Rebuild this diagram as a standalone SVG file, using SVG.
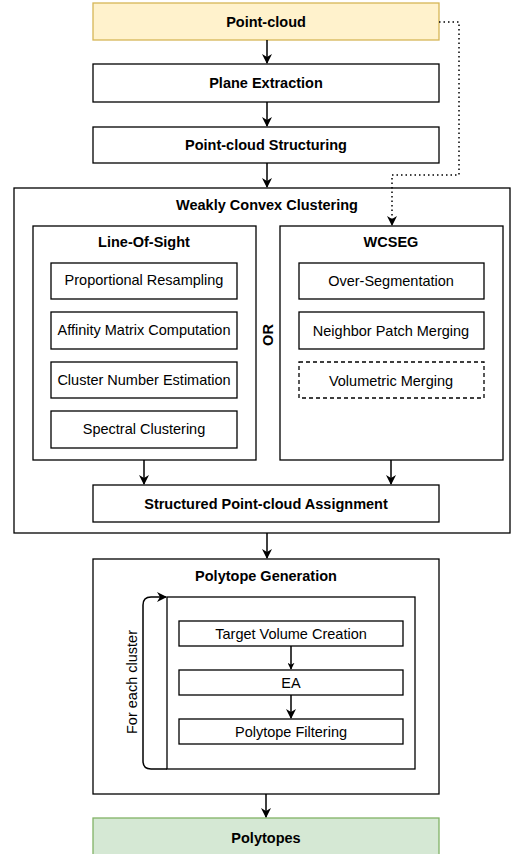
<svg xmlns="http://www.w3.org/2000/svg" width="513" height="854" viewBox="0 0 513 854">
<defs>
<marker id="ah" viewBox="0 0 10 10" refX="9" refY="5" markerWidth="7" markerHeight="7" markerUnits="userSpaceOnUse" orient="auto">
<path d="M0,0 L10,5 L0,10 L3,5 Z" fill="#000"/>
</marker>
<marker id="ah2" viewBox="0 0 10 10" refX="9" refY="5" markerWidth="10" markerHeight="10" markerUnits="userSpaceOnUse" orient="auto">
<path d="M0,0 L10,5 L0,10 L3,5 Z" fill="#000"/>
</marker>
<style>
rect{fill:#fff;stroke:#000;stroke-width:1.3}
text{font-family:"Liberation Sans",Arial,sans-serif;font-size:14.5px;text-anchor:middle;fill:#000}
.b{font-weight:bold}
.c{fill:none;stroke:#000;stroke-width:1.5}
</style>
</defs>
<rect width="513" height="854" style="fill:#fff;stroke:none"/>
<g id="wcc"><rect x="14" y="188" width="496" height="345"/><text class="b" x="267" y="210">Weakly Convex Clustering</text></g>
<g id="los"><rect x="33" y="226" width="223" height="234"/><text class="b" x="144" y="247">Line-Of-Sight</text></g>
<g id="wcseg"><rect x="280" y="226" width="223" height="234"/><text class="b" x="391" y="247">WCSEG</text></g>
<g id="pg"><rect x="93" y="559" width="346" height="235"/><text class="b" x="266" y="581">Polytope Generation</text></g>
<g id="loop"><rect x="167" y="597" width="248" height="172"/></g>
<g id="pc"><rect x="93" y="3" width="346" height="37" style="fill:#fff2cc;stroke:#d6b656"/><text class="b" x="266" y="27">Point-cloud</text></g>
<g id="pe"><rect x="93" y="64" width="346" height="38"/><text class="b" x="266" y="88">Plane Extraction</text></g>
<g id="pcs"><rect x="93" y="127" width="346" height="36"/><text class="b" x="266" y="150">Point-cloud Structuring</text></g>
<g id="pr"><rect x="51" y="263" width="186" height="36"/><text x="144" y="285">Proportional Resampling</text></g>
<g id="amc"><rect x="51" y="312" width="186" height="37"/><text x="144" y="335">Affinity Matrix Computation</text></g>
<g id="cne"><rect x="51" y="362" width="186" height="36"/><text x="144" y="385">Cluster Number Estimation</text></g>
<g id="sc"><rect x="51" y="411" width="186" height="37"/><text x="144" y="434">Spectral Clustering</text></g>
<g id="os"><rect x="299" y="263" width="185" height="36"/><text x="391" y="286">Over-Segmentation</text></g>
<g id="npm"><rect x="299" y="312" width="185" height="37"/><text x="391" y="336">Neighbor Patch Merging</text></g>
<g id="vm"><rect x="299" y="362" width="185" height="36" style="stroke-dasharray:4 3"/><text x="391" y="386">Volumetric Merging</text></g>
<g id="or"><text class="b" transform="translate(268,335) rotate(-90)" y="5">OR</text></g>
<g id="spa"><rect x="93" y="485" width="346" height="37"/><text class="b" x="266" y="509">Structured Point-cloud Assignment</text></g>
<g id="tvc"><rect x="179" y="621" width="224" height="25"/><text x="291" y="639">Target Volume Creation</text></g>
<g id="ea"><rect x="179" y="670" width="224" height="25"/><text x="291" y="688">EA</text></g>
<g id="pf"><rect x="179" y="719" width="224" height="25"/><text x="291" y="737">Polytope Filtering</text></g>
<g id="fec"><text transform="translate(132,682) rotate(-90)" y="5">For each cluster</text></g>
<g id="poly"><rect x="93" y="818" width="346" height="40" style="fill:#d5e8d4;stroke:#82b366"/><text class="b" x="266" y="843">Polytopes</text></g>
<g id="connectors">
<path class="c" d="M267,40 V63" marker-end="url(#ah2)"/>
<path class="c" d="M267,102 V126" marker-end="url(#ah2)"/>
<path class="c" d="M267,163 V187" marker-end="url(#ah2)"/>
<path class="c" d="M439,22 H459 V175 H392 V225" style="stroke-dasharray:1.5 3" marker-end="url(#ah2)"/>
<path class="c" d="M144,460 V484" marker-end="url(#ah2)"/>
<path class="c" d="M391,460 V484" marker-end="url(#ah2)"/>
<path class="c" d="M267,533 V558" marker-end="url(#ah2)"/>
<path class="c" d="M291,646 V669" marker-end="url(#ah)"/>
<path class="c" d="M291,695 V718" marker-end="url(#ah2)"/>
<path class="c" d="M167,769 H151 Q143,769 143,761 V605 Q143,597 151,597 H166" marker-end="url(#ah2)"/>
<path class="c" d="M266,794 V817" marker-end="url(#ah2)"/>
</g>
</svg>
